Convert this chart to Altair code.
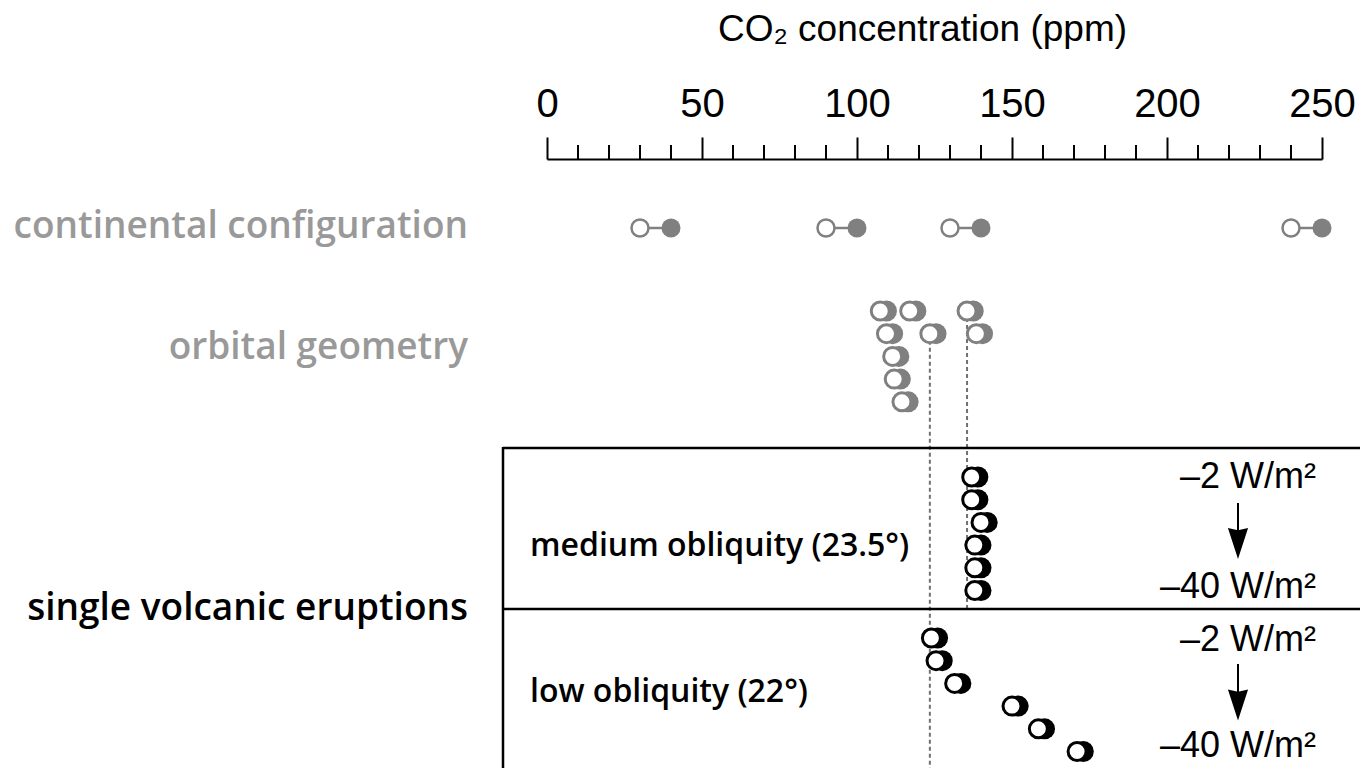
import altair as alt
import pandas as pd

# CO2 thresholds (ppm): open marker = lower bound, filled marker = upper bound
continental_open = [30, 90, 130, 240]
continental_filled = [40, 100, 140, 250]

orbital_row = [0, 0, 0, 1, 1, 1, 2, 3, 4]
orbital_open = [107.5, 117, 135.5, 109.5, 123.5, 138.5, 111.5, 112, 114.5]
orbital_filled = [109.5, 119, 137.5, 111.5, 125.5, 140.5, 113.5, 114, 116.5]

medium_open = [137, 137, 140, 138, 138, 138]
medium_filled = [139, 139, 142, 140, 140, 140]

low_open = [124, 125.5, 131.5, 150, 158.5, 171]
low_filled = [126, 127.5, 133.5, 152, 160.5, 173]

# orbital thresholds carried down as dashed guides
guide_ppm = [123.5, 135.5]
guide_start_row = [1, 0]

axis_major = [0, 50, 100, 150, 200, 250]
axis_minor = [10, 20, 30, 40, 60, 70, 80, 90, 110, 120, 130, 140,
              160, 170, 180, 190, 210, 220, 230, 240]

# ---- layout (pixels below the axis line) ----
W, H = 775, 609
CONT_Y = 69
ORB_Y0 = 152
MED_Y0 = 318
LOW_Y0 = 479
STEP = 22.7
BOX_TOP, BOX_MID = 289, 450
BOX_LEFT, BOX_RIGHT = -44, 813

GREY = "#808080"
LABEL_GREY = "#999999"
SANS = "Liberation Sans"
OPEN = "Open Sans"

x_axis = alt.Axis(
    orient="top", values=axis_major, format="d",
    tickSize=22, tickWidth=2, tickColor="black",
    domainColor="black", domainWidth=2, grid=False,
    labelFont=SANS, labelFontSize=40, labelColor="black",
    labelPadding=21, labelBaseline="alphabetic", labelAngle=0,
    labelFlush=False, labelOverlap=False,
    title="CO₂ concentration (ppm)", titleFont=SANS, titleFontSize=37,
    titleFontWeight="normal", titleColor="black",
    titleX=375, titleY=-119, titleBaseline="alphabetic", titleAlign="center",
)
x_scale = alt.Scale(domain=[0, 250], nice=False, zero=False)
y_scale = alt.Scale(domain=[0, H], reverse=True, nice=False, zero=False)


def X(field):
    return alt.X(field, type="quantitative", scale=x_scale, axis=x_axis)


def Y(field):
    return alt.Y(field, type="quantitative", scale=y_scale, axis=None)


# ---- data frames ----
cont = pd.DataFrame({"lo": continental_open, "hi": continental_filled})
cont["y"] = CONT_Y

orb = pd.DataFrame({"lo": orbital_open, "hi": orbital_filled, "row": orbital_row})
orb["y"] = ORB_Y0 + orb["row"] * STEP
orb["tone"] = "grey"

med = pd.DataFrame({"lo": medium_open, "hi": medium_filled})
med["y"] = MED_Y0 + med.index * STEP
med["tone"] = "black"

low = pd.DataFrame({"lo": low_open, "hi": low_filled})
low["y"] = LOW_Y0 + low.index * STEP
low["tone"] = "black"

glyphs = pd.concat([orb, med, low], ignore_index=True)
tone = alt.Scale(domain=["grey", "black"], range=[GREY, "black"])

guides = pd.DataFrame({"ppm": guide_ppm, "row": guide_start_row})
guides["y"] = ORB_Y0 + guides["row"] * STEP
guides["y2"] = [H, BOX_MID]

minor = pd.DataFrame({"ppm": axis_minor})

# ---- layers ----
minor_ticks = alt.Chart(minor).mark_rule(color="black", strokeWidth=2).encode(
    x=X("ppm"), y=alt.value(0), y2=alt.value(-14)
)

guide_lines = alt.Chart(guides).mark_rule(
    color="#707070", strokeWidth=2, strokeDash=[4, 3]
).encode(x=X("ppm"), y=Y("y"), y2="y2")

cont_link = alt.Chart(cont).mark_rule(color=GREY, strokeWidth=2.5).encode(
    x=X("lo"), x2="hi", y=Y("y")
)
cont_open = alt.Chart(cont).mark_point(
    shape="circle", filled=True, fill="white", stroke=GREY,
    strokeWidth=2.5, size=289, opacity=1
).encode(x=X("lo"), y=Y("y"))
cont_filled = alt.Chart(cont).mark_point(
    shape="circle", filled=True, fill=GREY, size=361, opacity=1, strokeWidth=0
).encode(x=X("hi"), y=Y("y"))

glyph_filled = alt.Chart(glyphs).mark_point(
    shape="circle", filled=True, size=441, opacity=1, strokeWidth=0
).encode(
    x=X("hi"), y=Y("y"),
    fill=alt.Fill("tone:N", scale=tone, legend=None),
)
glyph_open = alt.Chart(glyphs).mark_point(
    shape="circle", filled=True, fill="white", size=324, opacity=1, strokeWidth=3
).encode(
    x=X("lo"), y=Y("y"),
    stroke=alt.Stroke("tone:N", scale=tone, legend=None),
)

# box around the single-eruption experiments
box_frame = pd.DataFrame({"part": ["top", "mid", "left"]})
box_top = alt.Chart(box_frame.iloc[[0]]).mark_rule(color="black", strokeWidth=2.5).encode(
    x=alt.value(BOX_LEFT), x2=alt.value(BOX_RIGHT), y=alt.value(BOX_TOP)
)
box_mid = alt.Chart(box_frame.iloc[[1]]).mark_rule(color="black", strokeWidth=2.5).encode(
    x=alt.value(BOX_LEFT), x2=alt.value(BOX_RIGHT), y=alt.value(BOX_MID)
)
box_left = alt.Chart(box_frame.iloc[[2]]).mark_rule(color="black", strokeWidth=2.5).encode(
    x=alt.value(BOX_LEFT), y=alt.value(BOX_TOP - 1), y2=alt.value(H)
)


def label(text, x, y, align, color, font, size, weight):
    return alt.Chart(pd.DataFrame({"t": [text]})).mark_text(
        align=align, baseline="alphabetic", font=font, fontSize=size,
        fontWeight=weight, color=color
    ).encode(x=alt.value(x), y=alt.value(y), text="t:N")


texts = [
    label("continental configuration", -79, 79, "right", LABEL_GREY, OPEN, 37, 600),
    label("orbital geometry", -79, 200, "right", LABEL_GREY, OPEN, 37, 600),
    label("single volcanic eruptions", -79, 461, "right", "black", OPEN, 37, 600),
    label("medium obliquity (23.5°)", -17, 397, "left", "black", OPEN, 32, 600),
    label("low obliquity (22°)", -17, 543, "left", "black", OPEN, 32, 600),
    label("–2 W/m²", 769, 329, "right", "black", SANS, 36, "normal"),
    label("–40 W/m²", 769, 439, "right", "black", SANS, 36, "normal"),
    label("–2 W/m²", 769, 492, "right", "black", SANS, 36, "normal"),
    label("–40 W/m²", 769, 598, "right", "black", SANS, 36, "normal"),
]

ARROW_X = 691
HEAD = "M-0.65,-1L0,-0.85L0.65,-1L0,1Z"


def arrow(y_top, y_base, y_head):
    df = pd.DataFrame({"a": [1]})
    shaft = alt.Chart(df).mark_rule(color="black", strokeWidth=2).encode(
        x=alt.value(ARROW_X), y=alt.value(y_top), y2=alt.value(y_base)
    )
    head = alt.Chart(df).mark_point(
        shape=HEAD, filled=True, color="black", size=961, opacity=1, strokeWidth=0
    ).encode(x=alt.value(ARROW_X), y=alt.value(y_head))
    return [shaft, head]


arrows = arrow(344, 375, 384.5) + arrow(505, 535, 546)

chart = alt.layer(
    cont_link, minor_ticks, guide_lines, cont_open, cont_filled,
    glyph_filled, glyph_open, box_top, box_mid, box_left,
    *texts, *arrows,
).properties(
    width=W, height=H,
    padding={"left": 547, "top": 159, "right": 38, "bottom": 0},
    autosize=alt.AutoSizeParams(type="none"),
    background="white",
).configure_view(
    strokeWidth=0
).configure_axis(
    grid=False
)

chart.save("out.html", embed_options={"renderer": "svg", "actions": False})
